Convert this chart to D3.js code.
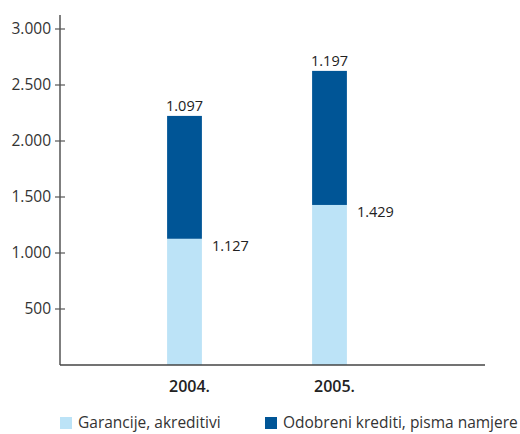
<!DOCTYPE html>
<html>
<head>
<meta charset="utf-8">
<script src="https://cdn.jsdelivr.net/npm/d3@7"></script>
<style>
	body { margin: 0; background: #fff; }
	svg text { font-family: "Open Sans", sans-serif; fill: #222; }
</style>
</head>
<body>
<div id="graph"></div>
<script>
var years = ['2004.', '2005.'],
	garancije = [1127, 1429],
	odobreni = [1097, 1197],
	yTicks = [500, 1000, 1500, 2000, 2500, 3000],
	seriesNames = ['Garancije, akreditivi', 'Odobreni krediti, pisma namjere'],
	colors = ['#bce3f7', '#005596'];

var SVGwidth = 520,
	SVGheight = 434;

// formats 1127 -> 1.127
function fmt(v) { return d3.format(',')(v).replace(/,/g, '.'); }

var svg = d3.select('div#graph')
	.append('svg')
	.attr('width', SVGwidth)
	.attr('height', SVGheight);

var x = d3.scaleBand()
	.domain(years)
	.range([112, 402])
	.paddingInner(0.76)
	.paddingOuter(0.38);

var y = d3.scaleLinear()
	.domain([0, 3000])
	.range([365, 29]);

var data = years.map(function (d, i) {
	return {year: d, g: garancije[i], o: odobreni[i]};
});

// bars
var bars = svg.append('g').attr('class', 'bars');

bars.selectAll('rect.g')
	.data(data)
	.enter()
	.append('rect')
	.attr('class', 'g')
	.attr('x', function (d) { return x(d.year); })
	.attr('width', x.bandwidth())
	.attr('y', function (d) { return y(d.g); })
	.attr('height', function (d) { return y(0) - y(d.g); })
	.attr('fill', colors[0]);

bars.selectAll('rect.o')
	.data(data)
	.enter()
	.append('rect')
	.attr('class', 'o')
	.attr('x', function (d) { return x(d.year); })
	.attr('width', x.bandwidth())
	.attr('y', function (d) { return y(d.g + d.o); })
	.attr('height', function (d) { return y(d.g) - y(d.g + d.o); })
	.attr('fill', colors[1]);

// value labels
svg.selectAll('text.top')
	.data(data)
	.enter()
	.append('text')
	.attr('class', 'top')
	.attr('x', function (d) { return x(d.year) + x.bandwidth() / 2; })
	.attr('y', function (d) { return y(d.g + d.o) - 5; })
	.attr('text-anchor', 'middle')
	.style('font-size', '14.5px')
	.text(function (d) { return fmt(d.o); });

svg.selectAll('text.bottom')
	.data(data)
	.enter()
	.append('text')
	.attr('class', 'bottom')
	.attr('x', function (d) { return x(d.year) + x.bandwidth() + 10; })
	.attr('y', function (d) { return y(d.g) + 12; })
	.style('font-size', '14.5px')
	.text(function (d) { return fmt(d.g); });

// y axis
var yAxis = svg.append('g')
	.attr('transform', 'translate(60,0)')
	.call(d3.axisLeft(y).tickValues(yTicks).tickSize(0).tickPadding(9).tickFormat(fmt));

yAxis.select('.domain').remove();
yAxis.selectAll('text').style('font-size', '15.5px').style('fill', '#333');

svg.append('g')
	.attr('class', 'ticks')
	.selectAll('line')
	.data(yTicks)
	.enter()
	.append('line')
	.attr('x1', 55)
	.attr('x2', 65)
	.attr('y1', function (d) { return y(d); })
	.attr('y2', function (d) { return y(d); })
	.attr('stroke', '#555')
	.attr('stroke-width', 1.2);

svg.append('line')
	.attr('x1', 60).attr('x2', 60)
	.attr('y1', 15).attr('y2', y(0))
	.attr('stroke', '#555')
	.attr('stroke-width', 1.5);

// x axis
svg.append('line')
	.attr('x1', 60).attr('x2', 485)
	.attr('y1', y(0)).attr('y2', y(0))
	.attr('stroke', '#444')
	.attr('stroke-width', 1.5);

svg.selectAll('text.year')
	.data(years)
	.enter()
	.append('text')
	.attr('class', 'year')
	.attr('x', function (d) { return x(d) + x.bandwidth() / 2 + 5; })
	.attr('y', 392)
	.attr('text-anchor', 'middle')
	.style('font-size', '16px')
	.style('font-weight', '600')
	.text(function (d) { return d; });

// legend
var legend = svg.append('g').attr('class', 'legend');
var legX = [60, 265];

legend.selectAll('rect')
	.data(seriesNames)
	.enter()
	.append('rect')
	.attr('x', function (d, i) { return legX[i]; })
	.attr('y', 417)
	.attr('width', 12)
	.attr('height', 12)
	.attr('fill', function (d, i) { return colors[i]; });

legend.selectAll('text')
	.data(seriesNames)
	.enter()
	.append('text')
	.attr('x', function (d, i) { return legX[i] + 18; })
	.attr('y', 428)
	.style('font-size', '15.5px')
	.style('fill', '#333')
	.text(function (d) { return d; });
</script>
</body>
</html>
